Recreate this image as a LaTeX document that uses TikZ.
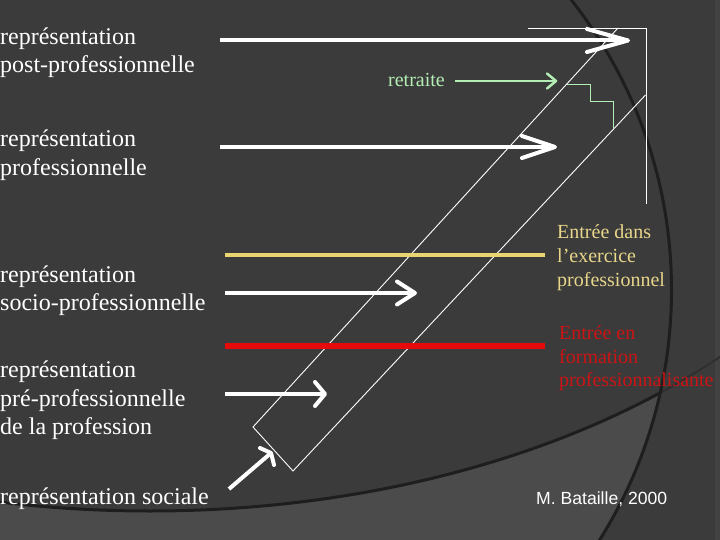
\documentclass[tikz,border=0pt]{standalone}
\usepackage{fontspec}
\setmainfont{Liberation Serif}
\newfontfamily\arialfont{Liberation Sans}
\usetikzlibrary{calc}
\definecolor{bgdark}{HTML}{3B3B3B}
\definecolor{bglight}{HTML}{4B4B4B}
\definecolor{bgstrip}{HTML}{424242}
\definecolor{curvecol}{HTML}{1E1E1E}
\definecolor{yel}{HTML}{EAD670}
\definecolor{yeltext}{HTML}{E8D68A}
\definecolor{redline}{HTML}{E60A0A}
\definecolor{redtext}{HTML}{CC1414}
\definecolor{grn}{HTML}{B4EEB4}
\begin{document}
\begin{tikzpicture}[x=1pt,y=-1pt,
  lefttxt/.style={anchor=base west,inner sep=0pt,text=white,font=\fontsize{24}{28}\selectfont},
  yeltxt/.style={anchor=base west,inner sep=0pt,text=yeltext,font=\fontsize{20}{24}\selectfont},
  redtxt/.style={anchor=base west,inner sep=0pt,text=redtext,font=\fontsize{20}{24}\selectfont},
  warrow/.style={draw=white,line width=4pt},
  whead/.style={draw=white,line width=4pt,line join=round,line cap=round},
  garrow/.style={draw=grn,line width=2.5pt},
  ghead/.style={draw=grn,line width=2.5pt,line join=round,line cap=round},
  thinw/.style={draw=white,line width=0.9pt},
  thing/.style={draw=grn,line width=0.9pt},
  curveline/.style={draw=curvecol,line width=3pt}]
\useasboundingbox (0,0) rectangle (720,540);
% background
\fill[bgdark] (0,0) rectangle (720,540);
\fill[bgstrip] (715,0) rectangle (720,540);
\begin{scope}
  \clip (201.5,290) circle (470pt);
  \fill[bglight,even odd rule] (-20,-20) rectangle (740,560) (150,30) ellipse [x radius=777pt, y radius=481pt];
  \draw[curveline] (150,30) ellipse [x radius=777pt, y radius=481pt];
\end{scope}
\begin{scope}[even odd rule]
  \clip (-20,-20) rectangle (740,560) (201.5,290) circle (470pt);
  \draw[draw=curvecol!40!bgdark,line width=2pt] (150,30) ellipse [x radius=777pt, y radius=481pt];
\end{scope}
\draw[curveline] (201.5,290) circle (470pt);

% left texts
\node[lefttxt] (t1a) at (0,45) {représentation};
\node[lefttxt] (t1b) at (0,73) {post-professionnelle};
\node[lefttxt] (t2a) at (0,147) {représentation};
\node[lefttxt] (t2b) at (0,176) {professionnelle};
\node[lefttxt] (t3a) at (0,282) {représentation};
\node[lefttxt] (t3b) at (0,310) {socio-professionnelle};
\node[lefttxt] (t4a) at (0,377) {représentation};
\node[lefttxt] (t4b) at (0,406) {pré-professionnelle};
\node[lefttxt] (t4c) at (0,434) {de la profession};
\node[lefttxt] (t5a) at (0,504) {représentation sociale};

% right texts
\node[yeltxt] (y1) at (557,238) {Entrée dans};
\node[yeltxt] (y2) at (557,262) {l’exercice};
\node[yeltxt] (y3) at (557,286) {professionnel};
\node[redtxt] (r1) at (559,339) {Entrée en};
\node[redtxt] (r2) at (559,363) {formation};
\node[redtxt] (r3) at (559,386) {professionnalisante};
\node[anchor=base west,inner sep=0pt,text=white,font=\arialfont\fontsize{17.6}{20}\selectfont] (auth) at (536,504) {M. Bataille, 2000};
\node[anchor=base west,inner sep=0pt,text=grn,font=\fontsize{20}{24}\selectfont] (ret) at (388,87) {retraite};

% thin white box and band
\coordinate (bx1) at (528,28);
\coordinate (bx2) at (646,28);
\coordinate (bx3) at (646,204);
\draw[thinw] (bx1) -- (bx2) -- (bx3);
\coordinate (b1) at (618,28);
\coordinate (b2) at (253,427);
\coordinate (b3) at (293,471);
\coordinate (b4) at (645.5,95);
\draw[thinw] (b1) -- (b2) -- (b3) -- (b4);

% green step
\coordinate (g1) at (567,84);
\coordinate (g2) at (590,84);
\coordinate (g3) at (590,101);
\coordinate (g4) at (613,101);
\coordinate (g5) at (613,128);
\draw[thing] (g1) -- (g2) -- (g3) -- (g4) -- (g5);

% horizontal lines
\coordinate (yl1) at (225,255.3);
\coordinate (yl2) at (545,255.3);
\draw[draw=yel,line width=4pt] (yl1) -- (yl2);
\coordinate (rl1) at (225,346);
\coordinate (rl2) at (545,346);
\draw[draw=redline,line width=5.5pt] (rl1) -- (rl2);

% white arrows
\coordinate (a1s) at (220,40.5);
\coordinate (a1t) at (628,40.5);
\draw[warrow] (a1s) -- (a1t);
\draw[whead] ($(a1t)+(-41,-11.5)$) -- (a1t) -- ($(a1t)+(-41,11.5)$);

\coordinate (a2s) at (220,147);
\coordinate (a2t) at (555,147);
\draw[warrow] (a2s) -- (a2t);
\draw[whead] ($(a2t)+(-33,-11)$) -- (a2t) -- ($(a2t)+(-33,11)$);

\coordinate (a3s) at (225,293);
\coordinate (a3t) at (415,293);
\draw[warrow] (a3s) -- (a3t);
\draw[whead] ($(a3t)+(-18,-11.5)$) -- (a3t) -- ($(a3t)+(-18,11.5)$);

\coordinate (a4s) at (225,394);
\coordinate (a4t) at (325,394);
\draw[warrow] (a4s) -- (a4t);
\draw[whead] ($(a4t)+(-10,-12)$) -- (a4t) -- ($(a4t)+(-10,12)$);

\coordinate (a5s) at (229,489);
\coordinate (a5t) at (271,453);
\draw[warrow] (a5s) -- (a5t);
\draw[whead] (260,448) -- (a5t) -- (274,465);

% green arrow
\coordinate (gs) at (455,81);
\coordinate (gt) at (556,81);
\draw[garrow] (gs) -- (gt);
\draw[ghead] ($(gt)+(-9,-7.5)$) -- (gt) -- ($(gt)+(-9,7.5)$);
\end{tikzpicture}
\end{document}
